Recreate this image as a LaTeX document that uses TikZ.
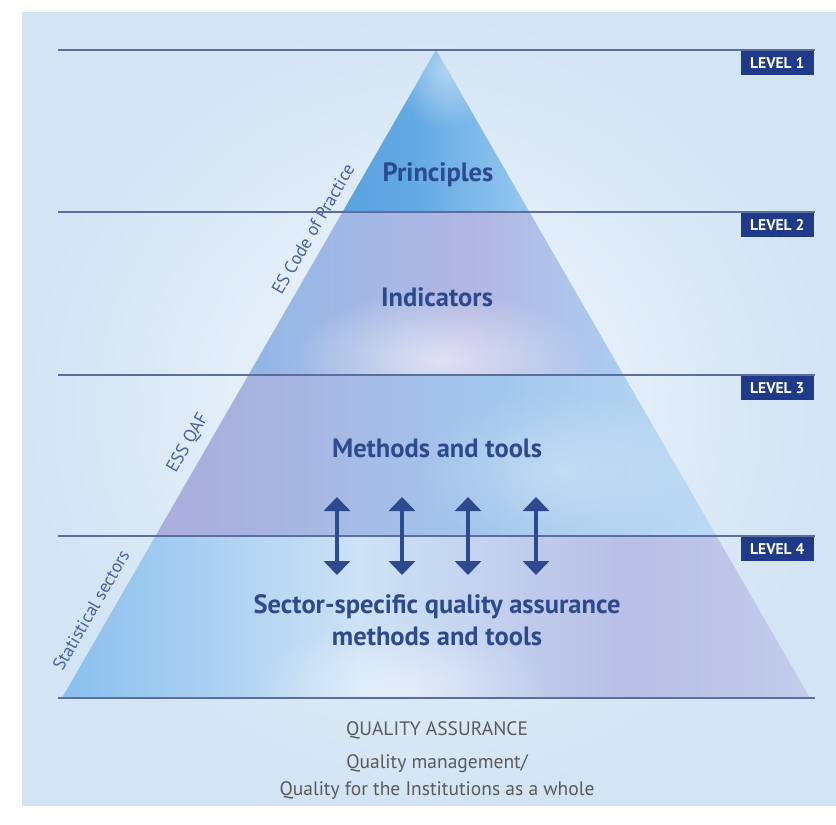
\documentclass[tikz,border=0pt]{standalone}
\usepackage{fontspec}
\setmainfont{PT Sans}
\usetikzlibrary{arrows.meta,fadings}
\definecolor{panelA}{HTML}{D3E4F5}
\definecolor{panelB}{HTML}{F1F7FD}
\definecolor{txtblue}{HTML}{2D4A8E}
\definecolor{sideblue}{HTML}{4A63A0}
\definecolor{lvlbox}{HTML}{203A8A}
\definecolor{linec}{HTML}{5C6E9E}
\definecolor{greytxt}{HTML}{5A5A5A}
\definecolor{ba0}{HTML}{4F97DB}
\definecolor{ba1}{HTML}{64AAE4}
\definecolor{ba2}{HTML}{96C8EE}
\definecolor{ba3}{HTML}{BEDEF5}
\definecolor{bb0}{HTML}{6AA6E2}
\definecolor{bb1}{HTML}{98B8E6}
\definecolor{bb2}{HTML}{B4B6E2}
\definecolor{bb3}{HTML}{A8D2F2}
\definecolor{bb4}{HTML}{6DBAEC}
\definecolor{bc0}{HTML}{A8A6D8}
\definecolor{bc1}{HTML}{AAB0DE}
\definecolor{bc2}{HTML}{A2C6EC}
\definecolor{bc3}{HTML}{BEDCF5}
\definecolor{bc4}{HTML}{D2E8F9}
\definecolor{bd0}{HTML}{589EE0}
\definecolor{bd1}{HTML}{80BAEC}
\definecolor{bd2}{HTML}{CDE2F6}
\definecolor{bd3}{HTML}{B8BEE6}
\definecolor{bd4}{HTML}{C8D2EE}
\definecolor{bd5}{HTML}{D8EAF9}
\pgfdeclarehorizontalshading{bandone}{100bp}{color(0bp)=(ba0); color(45bp)=(ba1); color(75bp)=(ba2); color(100bp)=(ba3)}
\pgfdeclarehorizontalshading{bandtwo}{100bp}{color(0bp)=(bb0); color(30bp)=(bb1); color(55bp)=(bb2); color(80bp)=(bb3); color(100bp)=(bb4)}
\pgfdeclarehorizontalshading{bandthree}{100bp}{color(0bp)=(bc0); color(30bp)=(bc1); color(55bp)=(bc2); color(78bp)=(bc3); color(100bp)=(bc4)}
\pgfdeclarehorizontalshading{bandfour}{100bp}{color(0bp)=(bd0); color(22bp)=(bd1); color(45bp)=(bd2); color(63bp)=(bd3); color(80bp)=(bd4); color(100bp)=(bd5)}
\tikzfading[name=softglow, inner color=transparent!0, outer color=transparent!100]
\tikzset{
  levelline/.style={draw=linec, line width=1.4pt},
  levelbox/.style={fill=lvlbox, text=white, font=\bfseries\fontsize{15.5}{17}\selectfont, minimum width=73pt, minimum height=24pt, inner sep=0pt, anchor=north east},
  maintext/.style={text=txtblue, font=\bfseries\fontsize{26.5}{32}\selectfont, align=center},
  sidetext/.style={text=sideblue, font=\fontsize{18}{20}\selectfont, rotate=60},
  dblarrow/.style={draw=txtblue, line width=4pt, {Triangle[length=14pt,width=26pt]}-{Triangle[length=14pt,width=26pt]}},
  bottomtext/.style={text=greytxt, font=\fontsize{19.5}{27}\selectfont, align=center},
  glow/.style={fill=white, path fading=softglow}
}
\begin{document}
\begin{tikzpicture}[x=1pt,y=-1pt]
\useasboundingbox (0,0) rectangle (836,825);
\fill[white] (0,0) rectangle (836,825);
% background panel
\shade[inner color=panelB, outer color=panelA] (22,12) rectangle (836,805);
% triangle
\coordinate (apex) at (436,50);
\coordinate (bl) at (62,698);
\coordinate (br) at (810,698);
\begin{scope}
\clip (apex) -- (bl) -- (br) -- cycle;
\shade[shading=bandone] (343,50) rectangle (530,212);
\fill[glow, opacity=0.45] (445,70) ellipse (50 and 60);
\shade[shading=bandtwo] (249,212) rectangle (623,375);
\fill[glow, opacity=0.6] (440,360) ellipse (150 and 70);
\shade[shading=bandthree] (156,375) rectangle (717,536);
\fill[glow, opacity=0.3] (560,470) ellipse (150 and 80);
\shade[shading=bandfour] (62,536) rectangle (810,698);
\fill[glow, opacity=0.5] (400,690) ellipse (150 and 70);
\end{scope}
% level lines
\coordinate (l1a) at (58,50); \coordinate (l1b) at (815,50);
\coordinate (l2a) at (58,212); \coordinate (l2b) at (815,212);
\coordinate (l3a) at (58,375); \coordinate (l3b) at (815,375);
\coordinate (l4a) at (58,536); \coordinate (l4b) at (815,536);
\coordinate (l5a) at (58,698); \coordinate (l5b) at (815,698);
\draw[levelline] (l1a) -- (l1b);
\draw[levelline] (l2a) -- (l2b);
\draw[levelline] (l3a) -- (l3b);
\draw[levelline] (l4a) -- (l4b);
\draw[levelline] (l5a) -- (l5b);
% level boxes
\node[levelbox] (lv1) at (814,51) {LEVEL 1};
\node[levelbox] (lv2) at (814,213) {LEVEL 2};
\node[levelbox] (lv3) at (814,376) {LEVEL 3};
\node[levelbox] (lv4) at (814,537) {LEVEL 4};
% main texts
\node[maintext] (princ) at (438,175) {Principles};
\node[maintext] (indic) at (437,297) {Indicators};
\node[maintext] (meth) at (437,448) {Methods and tools};
\node[maintext] (sect) at (437,620) {Sector-specific quality assurance\\methods and tools};
% side labels
\node[sidetext] (escop) at (313,229) {ES Code of Practice};
\node[sidetext] (essqaf) at (188,443) {ESS QAF};
\node[sidetext] (stsec) at (91,610) {Statistical sectors};
% arrows
\foreach \i/\x in {1/337,2/402,3/468,4/536}{
  \coordinate (at\i) at (\x,497);
  \coordinate (ab\i) at (\x,575);
  \draw[dblarrow] (at\i) -- (ab\i);
}
% bottom texts
\node[bottomtext] (qa) at (437,730) {QUALITY ASSURANCE};
\node[bottomtext] (qm) at (437,777) {Quality management/\\Quality for the Institutions as a whole};
\end{tikzpicture}
\end{document}
